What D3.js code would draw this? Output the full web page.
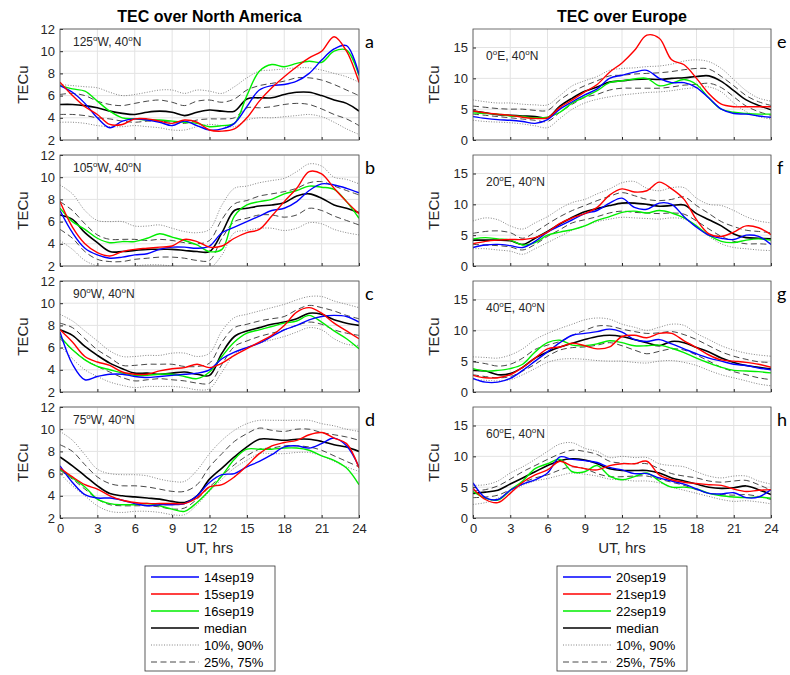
<!DOCTYPE html>
<html lang="en">
<head>
<meta charset="UTF-8">
<title>TEC over North America and Europe</title>
<style>
  * { box-sizing: border-box; }
  body { margin: 0; background: #fff; font-family: 'Liberation Sans', Arial, sans-serif; }
  .tick text { fill: #262626; font-size: 13px; font-family: 'Liberation Sans', Arial, sans-serif; }
</style>
</head>
<body>
<div id="chart"></div>
<script src="https://cdn.jsdelivr.net/npm/d3@7"></script>
<script>
// ---- data (TECu, hourly, UT 0..24) ----
const hours = [0,1,2,3,4,5,6,7,8,9,10,11,12,13,14,15,16,17,18,19,20,21,22,23,24];
const xTicks = [0,3,6,9,12,15,18,21,24];
const yTicksAmerica = [2,4,6,8,10,12];
const yTicksEurope = [0,5,10,15];
const legendAmerica = ['14sep19','15sep19','16sep19','median','10%, 90%','25%, 75%'];
const legendEurope = ['20sep19','21sep19','22sep19','median','10%, 90%','25%, 75%'];

// a: 125W
const a_day1 = [6.9,6.3,5.3,4.0,3.1,3.7,3.9,3.8,3.6,3.3,3.7,3.3,2.9,3.0,3.5,5.0,6.5,6.9,7.0,7.3,8.0,9.2,10.2,10.5,7.9];
const a_day2 = [7.2,6.0,5.0,4.3,3.4,3.4,3.9,3.9,3.7,3.5,3.8,3.6,2.9,2.8,3.0,4.0,5.5,6.7,7.7,8.6,9.4,10.0,11.3,10.0,7.2];
const a_day3 = [6.9,6.6,6.4,5.5,4.6,4.0,3.9,3.8,3.8,3.7,3.6,3.5,3.2,3.3,3.5,6.0,8.2,8.8,8.6,8.9,9.1,9.0,10.0,10.1,7.8];
const a_med = [5.2,5.2,5.1,4.9,4.6,4.4,4.3,4.5,4.6,4.5,4.2,4.5,4.7,4.6,4.6,5.7,5.8,5.8,6.1,6.3,6.3,6.0,5.6,5.3,4.6];
const a_p25 = [4.3,4.3,4.2,4.0,3.9,3.7,3.6,3.7,3.7,3.6,3.5,3.8,3.9,3.9,4.0,4.9,4.9,5.0,5.2,5.3,5.2,4.8,4.3,3.9,3.3];
const a_p75 = [6.1,6.2,6.0,5.5,5.2,5.1,5.3,5.5,5.6,5.4,5.1,5.5,5.6,5.4,5.7,6.5,6.9,7.1,7.3,7.6,7.6,7.4,7.0,6.5,6.0];
const a_p10 = [3.6,3.6,3.5,3.3,3.2,3.2,3.3,3.2,3.1,2.9,2.9,3.2,3.4,3.3,3.2,3.8,4.0,4.0,4.1,4.2,4.3,4.1,3.6,3.0,2.5];
const a_p90 = [7.0,6.9,6.8,6.7,6.3,6.0,6.1,6.3,6.5,6.5,6.2,6.5,6.4,6.2,6.8,7.6,8.2,8.3,8.4,8.5,8.5,8.3,8.0,7.7,7.2];

// b: 105W
const b_day1 = [7.0,5.0,3.6,3.0,2.7,2.8,3.0,3.1,3.5,3.7,3.7,3.6,3.8,5.0,5.5,6.0,6.5,7.0,7.2,7.8,8.8,9.4,9.3,9.0,8.6];
const b_day2 = [7.8,5.5,4.0,3.2,2.9,3.3,3.5,3.6,3.7,3.8,4.4,4.2,3.7,3.8,4.5,5.0,5.3,6.5,7.8,9.0,10.5,10.3,9.0,7.8,6.7];
const b_day3 = [7.2,6.0,5.3,4.5,4.1,4.2,4.2,4.5,4.9,4.6,4.3,3.9,3.3,3.5,6.5,7.5,7.8,8.0,8.5,8.8,9.2,9.1,8.9,7.8,6.3];
const b_med = [6.6,6.2,5.0,4.1,3.3,3.3,3.4,3.5,3.5,3.5,3.4,3.3,3.3,5.0,7.0,7.2,7.4,7.5,7.7,8.3,8.5,8.1,7.5,7.2,6.8];
const b_p25 = [5.3,4.5,3.3,2.6,2.4,2.4,2.6,2.7,2.8,2.8,2.7,2.5,2.5,4.5,6.0,6.3,6.6,6.6,6.4,6.6,7.2,7.0,6.5,6.1,5.7];
const b_p75 = [7.8,7.0,5.8,4.8,4.4,4.4,4.4,4.3,4.4,4.3,4.1,4.0,4.3,6.2,7.6,7.9,8.3,8.5,8.7,9.0,9.5,9.6,9.2,8.8,8.4];
const b_p10 = [4.3,3.5,2.5,2.0,1.8,1.8,2.0,2.1,2.1,2.0,1.9,1.8,1.8,3.0,5.0,5.2,5.4,5.4,5.2,5.4,5.9,5.8,5.3,5.0,4.8];
const b_p90 = [9.3,8.5,7.0,6.1,6.0,6.0,5.6,5.6,5.7,5.4,5.1,5.0,5.3,7.5,9.0,9.2,9.5,9.7,9.9,10.5,11.2,11.0,10.0,9.8,9.4];

// c: 90W
const c_day1 = [7.4,4.5,3.1,3.4,3.6,3.6,3.4,3.3,3.4,3.5,3.6,3.7,4.0,5.0,5.6,6.0,6.4,7.0,7.6,8.0,8.5,8.8,8.9,8.8,8.3];
const c_day2 = [7.6,6.5,5.2,4.7,4.4,3.8,3.6,3.6,3.9,4.1,4.2,4.5,4.2,4.6,5.3,5.9,6.5,7.1,8.0,9.2,9.6,9.1,8.2,7.5,6.8];
const c_day3 = [7.0,5.8,4.9,4.3,4.0,3.7,3.5,3.5,3.6,3.6,3.4,3.2,3.8,5.2,6.5,7.3,7.6,7.9,8.2,8.4,8.9,8.3,7.5,6.8,5.9];
const c_med = [7.6,7.1,6.1,5.3,4.6,4.1,3.7,3.7,3.6,3.7,3.8,3.6,3.5,5.5,7.0,7.5,7.8,8.1,8.3,8.6,9.1,9.0,8.5,8.2,8.0];
const c_p25 = [6.8,5.8,4.9,4.3,3.8,3.3,3.0,3.1,3.2,3.1,3.0,2.8,2.8,4.5,6.1,6.6,7.0,7.3,7.6,8.0,8.3,8.1,7.6,7.3,7.1];
const c_p75 = [8.2,7.8,6.8,5.8,5.1,4.4,4.4,4.5,4.5,4.5,4.3,4.3,4.6,6.5,7.8,8.1,8.4,8.6,8.8,9.4,9.8,9.6,9.3,8.9,8.6];
const c_p10 = [6.2,5.0,4.0,3.4,2.9,2.6,2.4,2.5,2.5,2.5,2.4,2.2,2.3,3.8,5.4,6.0,6.4,6.7,7.0,7.4,7.8,7.6,6.8,6.3,6.2];
const c_p90 = [9.0,8.4,7.5,6.6,5.7,5.2,5.2,5.3,5.3,5.5,5.5,5.2,5.5,7.5,8.7,9.0,9.3,9.6,9.9,10.3,10.6,10.6,10.2,9.9,9.6];

// d: 75W
const d_day1 = [6.7,5.2,4.1,3.8,3.8,3.6,3.3,3.1,3.2,3.2,3.3,4.0,5.2,5.9,6.0,6.6,7.1,7.7,8.4,8.5,8.3,8.7,9.2,8.5,6.6];
const d_day2 = [6.5,5.7,5.0,4.6,4.0,3.6,3.4,3.3,3.3,3.3,3.3,3.8,4.8,5.0,5.7,6.7,7.8,8.5,8.8,9.0,9.5,9.7,9.2,8.7,6.5];
const d_day3 = [6.4,5.6,4.8,3.7,3.3,3.2,3.2,3.3,3.1,2.8,2.6,3.4,4.5,5.8,7.3,8.2,8.2,8.2,8.3,8.3,8.1,7.6,7.2,6.5,5.0];
const d_med = [7.5,6.7,5.8,4.9,4.2,4.0,3.9,3.8,3.7,3.5,3.4,4.0,5.5,6.5,7.5,8.4,9.1,9.1,9.0,9.1,9.1,8.9,8.6,8.4,8.0];
const d_p25 = [6.3,5.5,4.6,3.7,3.2,3.1,3.1,3.1,3.0,2.8,2.9,3.7,4.8,5.8,6.8,7.6,8.2,8.3,8.5,8.5,8.4,8.1,7.6,7.1,6.6];
const d_p75 = [8.6,8.0,6.8,5.7,5.1,4.9,4.9,4.8,4.6,4.4,4.4,5.0,6.6,7.8,8.9,9.6,10.1,9.9,9.8,10.0,10.0,9.7,9.5,9.3,9.0];
const d_p10 = [6.0,4.9,4.0,3.1,2.6,2.5,2.6,2.6,2.5,2.3,2.3,3.2,4.4,5.5,6.5,7.2,7.8,7.8,7.8,7.9,7.9,7.6,7.1,6.6,6.2];
const d_p90 = [9.8,9.0,7.7,6.4,6.0,5.9,5.9,5.8,5.5,5.3,5.3,6.3,7.8,9.0,9.9,10.5,10.8,10.8,10.8,10.8,10.8,10.5,10.3,10.0,9.8];

// e: 0E
const e_day1 = [3.8,3.5,3.3,3.2,3.0,2.7,3.3,5.0,6.2,7.3,8.3,10.0,10.5,11.0,11.3,10.0,9.3,9.3,8.5,6.8,5.0,4.3,4.2,3.9,3.7];
const e_day2 = [4.7,4.4,4.2,4.0,3.7,3.5,3.6,5.3,6.5,7.8,9.0,11.0,12.5,14.5,17.0,16.5,13.0,12.2,10.0,7.5,5.8,5.4,5.4,5.4,5.4];
const e_day3 = [4.4,4.3,4.2,3.9,3.8,3.6,3.7,4.5,6.0,7.0,8.0,9.3,9.6,9.9,10.0,8.8,9.2,9.8,9.0,6.8,5.0,4.5,4.3,4.2,4.2];
const e_med = [4.7,4.4,4.1,4.0,3.9,3.8,3.6,5.5,6.8,7.9,8.6,9.4,9.6,9.8,9.9,9.8,10.0,10.1,10.3,10.4,9.5,8.0,6.5,5.6,4.9];
const e_p25 = [4.2,4.0,3.8,3.6,3.4,3.2,3.0,4.5,5.8,6.9,7.4,8.1,8.4,8.4,8.4,8.4,8.6,8.9,9.0,9.2,8.5,7.0,5.5,4.6,4.0];
const e_p75 = [5.5,5.3,5.1,5.0,5.0,4.8,4.8,6.5,7.8,8.8,9.6,10.4,10.5,10.7,10.8,10.9,11.1,11.4,11.6,11.5,10.3,8.8,7.2,6.2,5.6];
const e_p10 = [3.2,3.0,2.9,2.8,2.6,2.3,2.0,3.5,5.0,6.0,6.6,7.0,7.3,7.5,7.7,7.8,8.0,8.3,8.5,8.6,7.8,6.0,4.6,3.8,3.4];
const e_p90 = [6.5,6.2,6.0,6.0,5.8,5.7,5.7,7.2,8.8,9.6,10.3,11.3,11.6,11.7,11.9,12.0,12.3,12.8,13.0,12.7,11.6,9.8,8.0,6.8,6.3];

// f: 20E
const f_day1 = [3.0,3.4,3.5,3.3,3.0,4.0,5.5,6.5,7.5,8.5,9.0,10.2,11.0,9.5,9.2,10.2,10.0,8.0,6.3,5.0,4.5,4.3,5.0,4.8,3.5];
const f_day2 = [3.6,4.0,4.2,4.3,4.3,4.6,5.5,6.9,7.8,8.5,9.5,11.5,12.5,12.0,12.2,13.6,12.5,10.8,7.5,5.2,4.8,5.5,6.5,6.2,5.1];
const f_day3 = [4.4,4.6,4.4,4.2,3.4,3.8,5.0,5.5,5.9,6.5,7.4,8.0,8.7,8.9,8.6,9.0,8.6,7.8,6.5,5.0,4.0,3.8,4.2,4.4,4.2];
const f_med = [4.2,4.2,4.2,4.1,3.5,4.5,5.6,6.8,7.9,8.8,9.3,9.8,10.2,10.2,10.0,9.7,9.8,9.9,8.5,7.5,6.5,5.2,4.6,4.5,4.4];
const f_p25 = [3.5,3.4,3.3,3.1,2.6,3.5,4.8,5.9,7.0,7.5,8.0,8.6,8.9,8.7,8.6,8.5,8.6,8.4,7.3,6.0,4.8,4.0,3.6,3.6,3.5];
const f_p75 = [5.3,5.6,5.7,5.4,4.5,5.5,6.8,8.0,9.0,9.8,10.6,11.3,11.9,11.4,10.8,10.6,10.8,11.2,9.8,8.5,7.2,6.4,5.8,5.6,5.4];
const f_p10 = [2.8,2.8,2.6,2.4,1.9,2.8,3.8,4.8,5.8,6.5,7.2,7.6,7.9,7.8,7.7,7.6,7.8,7.6,6.4,4.8,3.6,3.0,2.8,2.6,2.5];
const f_p90 = [7.3,7.8,7.5,6.5,6.0,7.0,8.0,9.3,10.3,10.8,11.7,12.5,13.5,13.7,12.6,12.2,12.7,12.7,11.0,10.0,9.8,9.0,8.0,7.3,7.0];

// g: 40E
const g_day1 = [2.2,1.6,1.6,2.2,3.5,5.0,6.5,8.0,9.2,9.5,9.8,10.2,9.7,8.5,8.2,8.5,7.8,7.0,6.2,5.5,5.0,4.5,4.3,3.9,3.6];
const g_day2 = [2.7,2.3,2.3,2.8,4.0,5.5,7.0,7.3,7.9,7.5,7.0,7.3,9.0,9.2,8.8,9.5,9.5,8.3,7.2,6.0,5.2,5.0,4.8,4.5,4.0];
const g_day3 = [3.8,3.4,3.5,3.8,4.5,6.5,8.0,8.4,7.6,7.5,7.8,8.3,8.0,7.5,7.5,7.6,7.1,6.4,5.5,4.7,4.0,3.5,3.4,3.3,3.1];
const g_med = [3.5,3.4,2.8,3.0,4.0,5.5,6.5,7.3,7.9,8.5,9.0,9.2,9.0,8.5,8.0,7.5,8.2,8.0,7.2,6.5,5.5,4.8,4.3,4.0,3.7];
const g_p25 = [2.8,2.5,2.3,2.5,3.4,4.5,5.8,6.8,7.2,7.3,7.6,8.0,7.5,6.8,6.2,6.6,7.0,6.8,6.0,5.0,4.0,3.3,2.8,2.3,2.0];
const g_p75 = [4.9,4.6,4.2,4.5,5.5,6.9,7.6,8.2,9.2,10.0,10.7,10.7,10.2,9.8,9.5,9.6,9.8,9.3,8.5,7.5,6.5,5.8,5.3,4.9,4.8];
const g_p10 = [2.0,1.9,1.8,2.0,2.8,3.8,4.8,5.3,5.4,5.3,5.1,5.0,5.0,4.8,4.7,5.0,5.1,4.8,4.3,3.5,2.8,2.3,1.8,1.3,1.0];
const g_p90 = [5.7,5.6,5.5,6.0,7.0,8.5,9.5,10.3,11.0,11.7,12.0,11.8,11.0,10.5,10.0,10.5,11.0,10.8,9.5,8.5,7.5,6.8,6.3,6.0,5.8];

// h: 60E
const h_day1 = [5.7,3.3,3.0,4.5,5.5,6.2,7.3,9.9,9.5,9.3,9.0,8.2,7.8,7.2,7.2,6.5,6.0,5.5,4.7,4.0,3.9,4.1,3.3,3.4,4.6];
const h_day2 = [4.8,3.0,2.5,4.0,5.8,7.0,7.8,9.2,8.4,8.0,7.8,8.5,8.8,8.8,9.2,7.0,6.2,5.8,5.6,5.4,5.3,4.7,4.3,4.5,4.6];
const h_day3 = [4.3,3.2,2.9,4.5,6.0,8.0,8.8,9.5,7.5,7.5,8.5,6.8,6.2,6.7,7.3,6.0,5.0,5.0,4.7,4.0,3.6,3.4,3.3,3.4,3.2];
const h_med = [4.0,4.2,4.5,5.5,6.5,7.5,8.5,9.3,9.6,9.4,8.8,8.0,7.7,7.7,7.7,7.3,6.5,6.0,5.5,5.0,4.8,4.9,5.2,4.6,3.8];
const h_p25 = [3.3,3.4,3.7,4.6,5.7,6.5,7.0,7.8,8.3,8.0,7.2,6.7,6.7,6.8,6.8,6.3,5.8,5.3,4.6,4.0,3.8,3.7,3.8,3.5,3.0];
const h_p75 = [4.4,4.6,5.2,6.3,7.5,8.5,9.5,10.4,11.0,10.8,10.3,9.2,8.9,8.8,8.8,8.0,7.2,6.8,6.5,6.0,5.8,6.0,6.1,5.4,4.5];
const h_p10 = [2.2,2.5,3.2,4.2,5.3,6.0,6.4,6.9,7.3,7.1,6.8,6.3,6.2,6.0,6.0,5.7,5.0,4.5,4.0,3.5,3.0,2.7,2.8,2.6,2.3];
const h_p90 = [5.3,5.4,6.0,7.3,8.3,9.5,10.8,12.0,12.2,11.3,10.8,9.8,10.0,9.8,9.8,8.8,8.5,8.3,7.5,6.8,6.5,6.8,6.8,6.0,5.5];

// ---- panel layout ----
const panels = [
  {id:'a', col:0, row:0, lon:'125', dir:'W', s:[a_day1,a_day2,a_day3,a_med,a_p10,a_p90,a_p25,a_p75]},
  {id:'b', col:0, row:1, lon:'105', dir:'W', s:[b_day1,b_day2,b_day3,b_med,b_p10,b_p90,b_p25,b_p75]},
  {id:'c', col:0, row:2, lon:'90',  dir:'W', s:[c_day1,c_day2,c_day3,c_med,c_p10,c_p90,c_p25,c_p75]},
  {id:'d', col:0, row:3, lon:'75',  dir:'W', s:[d_day1,d_day2,d_day3,d_med,d_p10,d_p90,d_p25,d_p75]},
  {id:'e', col:1, row:0, lon:'0',   dir:'E', s:[e_day1,e_day2,e_day3,e_med,e_p10,e_p90,e_p25,e_p75]},
  {id:'f', col:1, row:1, lon:'20',  dir:'E', s:[f_day1,f_day2,f_day3,f_med,f_p10,f_p90,f_p25,f_p75]},
  {id:'g', col:1, row:2, lon:'40',  dir:'E', s:[g_day1,g_day2,g_day3,g_med,g_p10,g_p90,g_p25,g_p75]},
  {id:'h', col:1, row:3, lon:'60',  dir:'E', s:[h_day1,h_day2,h_day3,h_med,h_p10,h_p90,h_p25,h_p75]}
];

const cols = [{x0:60, x1:359, yDomain:[2,12], yTicks:yTicksAmerica, title:'TEC over North America', labelX:22, annY:17},
              {x0:473, x1:771, yDomain:[0,18], yTicks:yTicksEurope, title:'TEC over Europe', labelX:433, annY:31}];
const rowTop = [29, 155, 281, 407];
const PH = 111;

// stroke styles: day1, day2, day3, median, p10, p90, p25, p75
const styles = [
  {c:'#0000ff', w:1.4, d:null},
  {c:'#ff0000', w:1.4, d:null},
  {c:'#00ee00', w:1.4, d:null},
  {c:'#000000', w:1.6, d:null},
  {c:'#666666', w:0.8, d:'1,1.6'},
  {c:'#666666', w:0.8, d:'1,1.6'},
  {c:'#333333', w:0.9, d:'6,3.5'},
  {c:'#333333', w:0.9, d:'6,3.5'}
];
const drawOrder = [4,5,6,7,3,2,0,1];

const svg = d3.select('#chart').append('svg').attr('width', 790).attr('height', 675);

panels.forEach(p => {
  const col = cols[p.col];
  const top = rowTop[p.row];
  const x = d3.scaleLinear().domain([0,24]).range([col.x0, col.x1]);
  const y = d3.scaleLinear().domain(col.yDomain).range([top + PH, top]);
  const g = svg.append('g');

  // grid
  g.selectAll('.vg').data(xTicks).join('line')
    .attr('x1', d => x(d)).attr('x2', d => x(d)).attr('y1', top).attr('y2', top + PH)
    .attr('stroke', '#e3e3e3').attr('stroke-width', 1);
  g.selectAll('.hg').data(col.yTicks).join('line')
    .attr('x1', col.x0).attr('x2', col.x1).attr('y1', d => y(d)).attr('y2', d => y(d))
    .attr('stroke', '#e3e3e3').attr('stroke-width', 1);

  // lines
  const clipId = 'clip-' + p.id;
  svg.append('clipPath').attr('id', clipId).append('rect')
    .attr('x', col.x0).attr('y', top).attr('width', col.x1 - col.x0).attr('height', PH);
  const line = d3.line().x((d, i) => x(hours[i])).y(d => y(d)).curve(d3.curveCatmullRom.alpha(0.5));
  const lg = g.append('g').attr('clip-path', `url(#${clipId})`);
  drawOrder.forEach(k => {
    const st = styles[k];
    lg.append('path').attr('d', line(p.s[k])).attr('fill', 'none')
      .attr('stroke', st.c).attr('stroke-width', st.w)
      .attr('stroke-dasharray', st.d);
  });

  // axes
  const yAxis = d3.axisLeft(y).tickValues(col.yTicks).tickSize(3).tickSizeOuter(0);
  const ya = g.append('g').attr('transform', `translate(${col.x0},0)`).call(yAxis);
  ya.selectAll('.tick line').attr('x2', 3).attr('stroke', '#262626');
  ya.selectAll('.tick text').attr('x', -5);
  ya.select('.domain').remove();

  const xAxis = d3.axisBottom(x).tickValues(xTicks).tickSize(3).tickSizeOuter(0);
  const xa = g.append('g').attr('transform', `translate(0,${top + PH})`).call(xAxis);
  xa.selectAll('.tick line').attr('y2', -3).attr('stroke', '#262626');
  xa.selectAll('.tick text').attr('y', 6);
  if (p.row < 3) xa.selectAll('.tick text').remove();
  xa.select('.domain').remove();

  g.append('rect').attr('x', col.x0).attr('y', top).attr('width', col.x1 - col.x0).attr('height', PH)
    .attr('fill', 'none').attr('stroke', '#4d4d4d').attr('stroke-width', 0.8);

  // y label
  g.append('text').attr('transform', `translate(${col.labelX},${top + PH / 2}) rotate(-90)`)
    .attr('text-anchor', 'middle').attr('dominant-baseline', 'central')
    .attr('font-size', 15).attr('fill', '#262626').text('TECu');

  // location annotation
  const ann = g.append('text').attr('x', col.x0 + 13).attr('y', top + col.annY)
    .attr('font-size', 12).attr('fill', '#262626');
  ann.append('tspan').text(p.lon);
  ann.append('tspan').attr('dy', -5).attr('font-size', 8).text('o');
  ann.append('tspan').attr('dy', 5).text(p.dir + ', 40');
  ann.append('tspan').attr('dy', -5).attr('font-size', 8).text('o');
  ann.append('tspan').attr('dy', 5).text('N');

  // panel letter
  g.append('text').attr('x', col.x1 + 6).attr('y', top + 19)
    .attr('font-family', "Lato, 'Open Sans', sans-serif").attr('font-size', 18).attr('fill', '#000').text(p.id);
});

// titles and x labels
cols.forEach((col, ci) => {
  const cx = (col.x0 + col.x1) / 2;
  svg.append('text').attr('x', cx).attr('y', 22).attr('text-anchor', 'middle')
    .attr('font-size', 16).attr('font-weight', 'bold').attr('fill', '#000').text(col.title);
  svg.append('text').attr('x', cx).attr('y', 553).attr('text-anchor', 'middle')
    .attr('font-size', 15).attr('fill', '#262626').text('UT, hrs');

  // legend
  const names = ci === 0 ? legendAmerica : legendEurope;
  const lx = ci === 0 ? 145 : 557;
  const ly = 566;
  const lgd = svg.append('g');
  lgd.append('rect').attr('x', lx).attr('y', ly).attr('width', 130).attr('height', 105)
    .attr('fill', '#fff').attr('stroke', '#333').attr('stroke-width', 0.8);
  const legStyles = [styles[0], styles[1], styles[2], styles[3], styles[4], styles[6]];
  names.forEach((n, i) => {
    const yy = ly + 11 + i * 17;
    const st = legStyles[i];
    lgd.append('line').attr('x1', lx + 6).attr('x2', lx + 54).attr('y1', yy).attr('y2', yy)
      .attr('stroke', st.c).attr('stroke-width', st.w).attr('stroke-dasharray', st.d);
    lgd.append('text').attr('x', lx + 59).attr('y', yy).attr('dominant-baseline', 'central')
      .attr('font-size', 13).attr('fill', '#000').text(n);
  });
});
</script>
</body>
</html>
